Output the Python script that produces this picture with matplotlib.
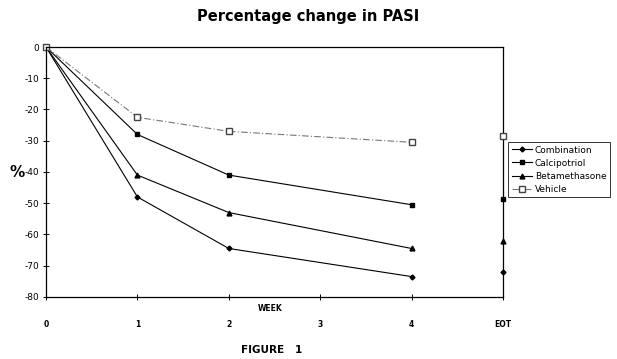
import numpy as np
import matplotlib; matplotlib.use("Agg")
import matplotlib.pyplot as plt

# values (EOT = end of treatment, shown as markers only)
weeks = [0, 1, 2, 4]
xlabels = ["0", "1", "2", "3", "4", "EOT"]
eot_x = 5
combination = [0, -48, -64.5, -73.5]
calcipotriol = [0, -28, -41, -50.5]
betamethasone = [0, -41, -53, -64.5]
vehicle = [0, -22.5, -27, -30.5]
eot_vals = {"Combination": -72, "Calcipotriol": -48.5, "Betamethasone": -62, "Vehicle": -28.5}

plt.rcParams.update({"font.family": "DejaVu Sans", "font.size": 6})
fig = plt.figure(figsize=(6.17, 3.59), dpi=100)
ax = fig.add_axes([0.0746, 0.173, 0.7406, 0.696])

series = [
    ("Combination", combination, dict(color="black", marker="D", ms=2.5, lw=0.8, ls="-")),
    ("Calcipotriol", calcipotriol, dict(color="black", marker="s", ms=3.5, lw=0.8, ls="-")),
    ("Betamethasone", betamethasone, dict(color="black", marker="^", ms=3.5, lw=0.8, ls="-")),
    ("Vehicle", vehicle, dict(color="#777777", marker="s", ms=4, lw=0.8, ls=(0, (6, 2, 1, 2)),
                              mfc="white", mec="#444444")),
]
for name, vals, st in series:
    ax.plot(weeks, vals, label=name, clip_on=False, **st)
    st2 = {k: v for k, v in st.items() if k not in ("ls", "lw")}
    ax.plot([eot_x], [eot_vals[name]], ls="none", clip_on=False, zorder=5, **st2)

ax.set_xlim(0, 5)
ax.set_ylim(-80, 0)
ax.set_xticks(range(6))
ax.set_xticklabels(xlabels, fontweight="bold", fontsize=5.5)
ax.set_yticks(np.arange(-80, 1, 10))
ax.set_yticklabels([str(v) for v in range(-80, 1, 10)], fontsize=6.5)
ax.tick_params(axis="x", direction="inout", length=5, width=0.7, pad=14)
ax.tick_params(axis="y", direction="inout", length=4, width=0.7, pad=3)
for s in ax.spines.values():
    s.set_linewidth(0.9)

fig.text(0.027, 0.52, "%", fontsize=11, fontweight="bold", ha="center", va="center")
fig.text(0.438, 0.142, "WEEK", fontsize=5.5, fontweight="bold", ha="center", va="center")
fig.text(0.5, 0.955, "Percentage change in PASI", fontsize=10.5, fontweight="bold",
         ha="center", va="center")
fig.text(0.44, 0.025, "FIGURE   1", fontsize=7.5, fontweight="bold", ha="center", va="center")

leg = ax.legend(loc="upper left", bbox_to_anchor=(1.012, 0.62), fontsize=6.5,
                frameon=True, fancybox=False, edgecolor="black", handlelength=2.2,
                handletextpad=0.3, borderpad=0.4, labelspacing=0.45, borderaxespad=0)
leg.get_frame().set_linewidth(0.7)

fig.savefig("out.png", dpi=100)
